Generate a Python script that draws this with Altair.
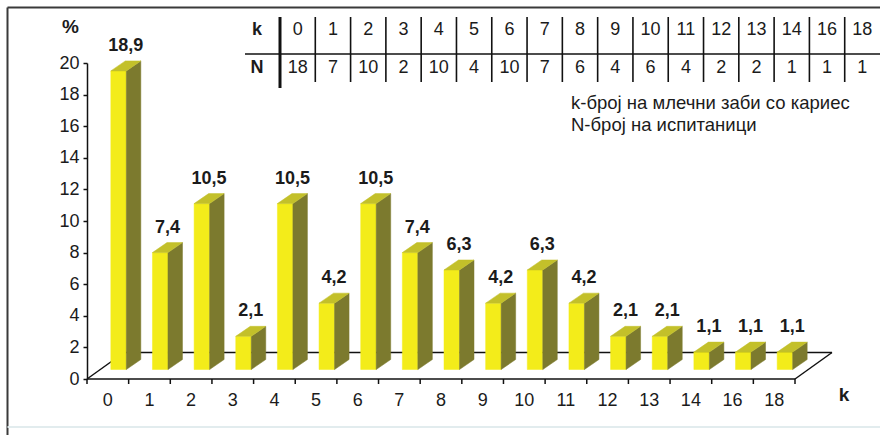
import altair as alt
import pandas as pd

# --- data -----------------------------------------------------------------
k_labels = ["0", "1", "2", "3", "4", "5", "6", "7", "8", "9",
            "10", "11", "12", "13", "14", "16", "18"]
n_counts = [18, 7, 10, 2, 10, 4, 10, 7, 6, 4, 6, 4, 2, 2, 1, 1, 1]
percent = [18.9, 7.4, 10.5, 2.1, 10.5, 4.2, 10.5, 7.4, 6.3, 4.2,
           6.3, 4.2, 2.1, 2.1, 1.1, 1.1, 1.1]
y_ticks = list(range(0, 21, 2))
legend_lines = ["k-број на млечни заби со кариес", "N-број на испитаници"]

# --- layout (pixels) ------------------------------------------------------
W, H = 708, 316
PAD = {"left": 87, "top": 63, "right": 85, "bottom": 56}
N = len(k_labels)
PXX = W / N          # pixels per category
PXY = H / 20.0       # pixels per percent


def ux(px):
    return (px - PAD["left"]) / PXX - 0.5


def uy(px):
    return (PAD["top"] + H - px) / PXY


def dx(px):
    return px / PXX


def dy(px):
    return px / PXY


FRONT_OFF = dx(3)
FRONT_W = dx(15.5)
LIFT = dy(9.5)
DEPTH_X = dx(14.5)
DEPTH_Y = dy(10)
FLOOR_X = dx(37)
FLOOR_Y = dy(26.5)

FONT = "Liberation Sans"
TXT = "#1b1b1b"
FRONT = "#F3EC1A"
SIDE = "#7C7A2E"
TOP = "#C3C02A"

XS = alt.Scale(domain=[-0.5, N - 0.5], nice=False, zero=False)
YS = alt.Scale(domain=[0, 20], nice=False, zero=False)
Y_AXIS = alt.Axis(values=y_ticks, tickSize=4, labelPadding=4,
                  labelFontSize=18, labelFont=FONT, labelColor=TXT,
                  domainColor="#111", domainWidth=1.5, tickColor="#111",
                  tickWidth=1.5, grid=False, title=None)


def X(f):
    return alt.X(f, type="quantitative", scale=XS, axis=None)


def Y(f):
    return alt.Y(f, type="quantitative", scale=YS, axis=Y_AXIS)


# --- bar geometry --------------------------------------------------------
front_rows, side_rows, top_rows, label_rows = [], [], [], []
for i, v in enumerate(percent):
    xl = i + FRONT_OFF
    xr = xl + FRONT_W
    front_rows.append({"x": xl, "x2": xr, "y": LIFT, "y2": LIFT + v})
    side_rows.append({"bar": i, "x": xr, "lo": LIFT, "hi": LIFT + v})
    side_rows.append({"bar": i, "x": xr + DEPTH_X, "lo": LIFT + DEPTH_Y,
                      "hi": LIFT + v + DEPTH_Y})
    top_rows.append({"bar": i, "y": LIFT + v, "xl": xl, "xr": xr})
    top_rows.append({"bar": i, "y": LIFT + v + DEPTH_Y,
                     "xl": xl + DEPTH_X, "xr": xr + DEPTH_X})
    label_rows.append({"x": xl + (FRONT_W + DEPTH_X) / 2,
                       "y": LIFT + DEPTH_Y + v + dy(10),
                       "t": f"{v:.1f}".replace(".", ",")})

front = alt.Chart(pd.DataFrame(front_rows)).mark_rect(
    color=FRONT, stroke=FRONT, strokeWidth=0.5
).encode(x=X("x"), x2="x2", y=Y("y"), y2="y2")

side = alt.Chart(pd.DataFrame(side_rows)).mark_area(
    orient="vertical", color=SIDE, stroke=SIDE, strokeWidth=0.5
).encode(x=X("x"), y=Y("lo"), y2="hi", detail="bar:N")

top = alt.Chart(pd.DataFrame(top_rows)).mark_area(
    orient="horizontal", color=TOP, stroke=TOP, strokeWidth=0.5
).encode(y=Y("y"), x=X("xl"), x2="xr", detail="bar:N")

values = alt.Chart(pd.DataFrame(label_rows)).mark_text(
    font=FONT, fontSize=18, fontWeight="bold", color=TXT, baseline="alphabetic"
).encode(x=X("x"), y=Y("y"), text="t:N")

# --- floor ---------------------------------------------------------------
x0, x1 = -0.5, N - 0.5
floor_df = pd.DataFrame([
    {"x": x0, "y": 0, "x2": x1, "y2": 0},
    {"x": x0 + FLOOR_X, "y": FLOOR_Y, "x2": x1 + FLOOR_X, "y2": FLOOR_Y},
    {"x": x0, "y": 0, "x2": x0 + FLOOR_X, "y2": FLOOR_Y},
    {"x": x1, "y": 0, "x2": x1 + FLOOR_X, "y2": FLOOR_Y},
])
floor = alt.Chart(floor_df).mark_rule(color="#111", strokeWidth=1.5).encode(
    x=X("x"), y=Y("y"), x2="x2", y2="y2")

tick_df = pd.DataFrame({"x": [b - 0.5 for b in range(N + 1)],
                        "y": 0.0, "y2": -dy(5)})
xticks = alt.Chart(tick_df).mark_rule(color="#111", strokeWidth=1.5).encode(
    x=X("x"), y=Y("y"), y2="y2")

xlab_df = pd.DataFrame({"x": list(range(N)), "y": uy(401), "t": k_labels})
xlabels = alt.Chart(xlab_df).mark_text(
    font=FONT, fontSize=18, color=TXT, baseline="middle"
).encode(x=X("x"), y=Y("y"), text="t:N")

titles_df = pd.DataFrame([
    {"x": ux(70.5), "y": uy(27), "t": "%"},
    {"x": ux(844), "y": uy(395), "t": "k"},
])
titles = alt.Chart(titles_df).mark_text(
    font=FONT, fontSize=19, fontWeight="bold", color=TXT, baseline="middle"
).encode(x=X("x"), y=Y("y"), text="t:N")

# --- table of counts -----------------------------------------------------
TX0, TX1, TX2 = ux(245), ux(280), ux(880)
CW = (TX2 - TX1) / N
row1, row2, hline = uy(30), uy(68), uy(54)

tlines = [
    {"x": TX0, "y": hline, "x2": TX2, "y2": hline, "w": 1.6},
    {"x": TX1, "y": uy(17), "x2": TX1, "y2": uy(88), "w": 3},
]
for j in range(1, N):
    xs = TX1 + j * CW
    tlines.append({"x": xs, "y": uy(17), "x2": xs, "y2": uy(82), "w": 1.6})
table_lines = alt.Chart(pd.DataFrame(tlines)).mark_rule(color="#111").encode(
    x=X("x"), y=Y("y"), x2="x2", y2="y2",
    strokeWidth=alt.StrokeWidth("w:Q", scale=None))

cells = []
for i, (k, n) in enumerate(zip(k_labels, n_counts)):
    cx = TX1 + (i + 0.5) * CW
    cells.append({"x": cx, "y": row1, "t": k})
    cells.append({"x": cx, "y": row2, "t": str(n)})
table_text = alt.Chart(pd.DataFrame(cells)).mark_text(
    font=FONT, fontSize=18, color=TXT, baseline="middle"
).encode(x=X("x"), y=Y("y"), text="t:N")

heads = alt.Chart(pd.DataFrame([
    {"x": ux(257), "y": row1, "t": "k"},
    {"x": ux(257), "y": row2, "t": "N"},
])).mark_text(
    font=FONT, fontSize=18, fontWeight="bold", color=TXT, baseline="middle"
).encode(x=X("x"), y=Y("y"), text="t:N")

legend = alt.Chart(pd.DataFrame([
    {"x": ux(571), "y": uy(103), "t": legend_lines[0]},
    {"x": ux(571), "y": uy(125), "t": legend_lines[1]},
])).mark_text(
    font=FONT, fontSize=18.5, color=TXT, baseline="middle", align="left"
).encode(x=X("x"), y=Y("y"), text="t:N")

# --- outer frame ---------------------------------------------------------
frame = alt.Chart(pd.DataFrame([
    {"x": ux(7.5), "y": uy(7.5), "x2": ux(880), "y2": uy(7.5), "c": "#3a3a3a"},
    {"x": ux(7.5), "y": uy(7.5), "x2": ux(7.5), "y2": uy(435), "c": "#3a3a3a"},
    {"x": ux(7.5), "y": uy(427), "x2": ux(880), "y2": uy(427), "c": "#e2ecee"},
])).mark_rule(strokeWidth=2).encode(
    x=X("x"), y=Y("y"), x2="x2", y2="y2",
    color=alt.Color("c:N", scale=None))

chart = alt.layer(
    frame, floor, xticks, front, side, top, values, xlabels, titles,
    table_lines, table_text, heads, legend,
).properties(
    width=W, height=H, padding=PAD,
    autosize=alt.AutoSizeParams(type="none"),
    background="white",
).configure_view(stroke=None)

chart.save("out.html", embed_options={"renderer": "svg", "actions": False})
